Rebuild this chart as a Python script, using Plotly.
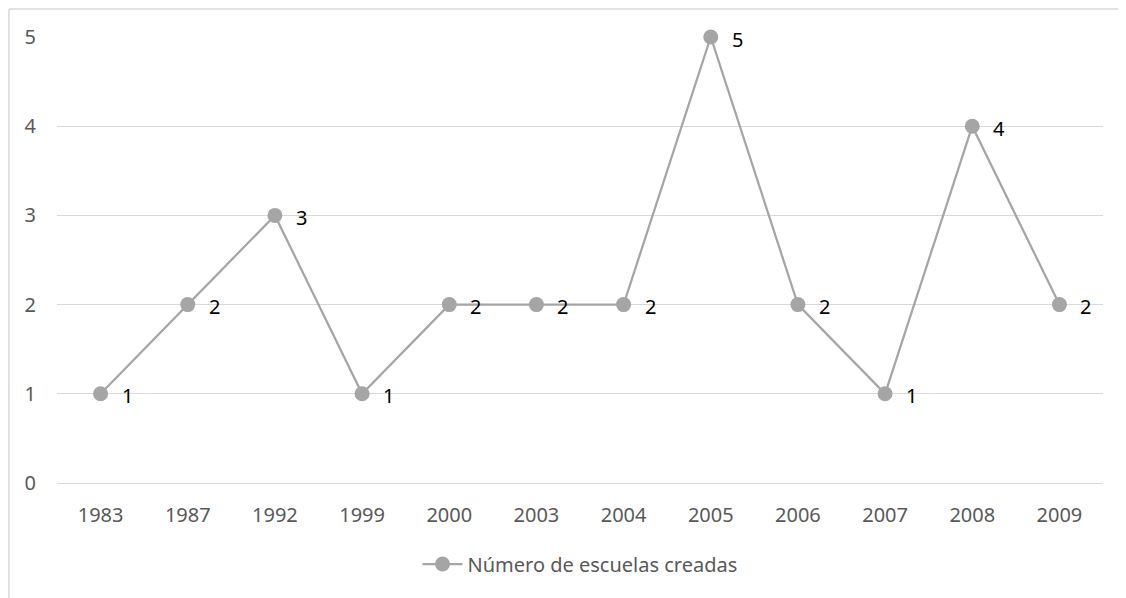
import plotly.graph_objects as go

years = ["1983", "1987", "1992", "1999", "2000", "2003", "2004", "2005", "2006", "2007", "2008", "2009"]
schools = [1, 2, 3, 1, 2, 2, 2, 5, 2, 1, 4, 2]
series_name = "Número de escuelas creadas"
y_ticks = [0, 1, 2, 3, 4, 5]

OFF = 8  # page body margin
W, H = 1126 - OFF, 598 - OFF
L, T = 57 - OFF, 37 - OFF
R, B = W - (1103 - OFF), H - (483 - OFF)
pw, ph = W - L - R, H - T - B

fig = go.Figure()
fig.add_trace(go.Scatter(
    x=years, y=schools, mode="lines+markers", name=series_name,
    line=dict(color="#A5A5A5", width=2.25),
    marker=dict(color="#A5A5A5", size=15),
    cliponaxis=False,
))
for i, v in enumerate(schools):
    fig.add_annotation(x=i, y=v, text=str(v), showarrow=False,
                       xanchor="left", yanchor="middle", xshift=19, yshift=-2,
                       font=dict(family="Noto Sans, Open Sans, sans-serif", size=20, color="#000000"))

# chart border (top and left edges only visible)
bx0 = (0.9 - L) / pw
by1 = 1 + (T - 1) / ph
border = dict(color="#D9D9D9", width=1.5)
fig.add_shape(type="line", xref="paper", yref="paper", x0=bx0, x1=(W - L) / pw, y0=by1, y1=by1,
              line=border, layer="below")
fig.add_shape(type="line", xref="paper", yref="paper", x0=bx0, x1=bx0, y0=-B / ph, y1=by1,
              line=border, layer="below")

font = dict(family="Noto Sans, Open Sans, sans-serif", size=20, color="#595959")
fig.update_layout(
    width=W, height=H, margin=dict(l=L, r=R, t=T, b=B, autoexpand=False),
    paper_bgcolor="white", plot_bgcolor="white", font=font,
    showlegend=True,
    legend=dict(orientation="h", x=0.5, xanchor="center", y=(483 - 564) / ph, yanchor="middle",
                font=font, itemwidth=40),
    xaxis=dict(type="category", categoryorder="array", categoryarray=years,
               range=[-0.5, len(years) - 0.5], automargin=False,
               showgrid=False, showline=False, zeroline=False,
               ticks="", ticklabelstandoff=18, tickfont=font),
    yaxis=dict(range=[0, 5], tickvals=y_ticks, automargin=False,
               showgrid=True, gridcolor="#D9D9D9", gridwidth=1.2,
               zeroline=True, zerolinecolor="#D9D9D9", zerolinewidth=1.2, showline=False,
               ticks="", ticklabelstandoff=20, tickfont=font),
)
fig.write_html("out.html")
